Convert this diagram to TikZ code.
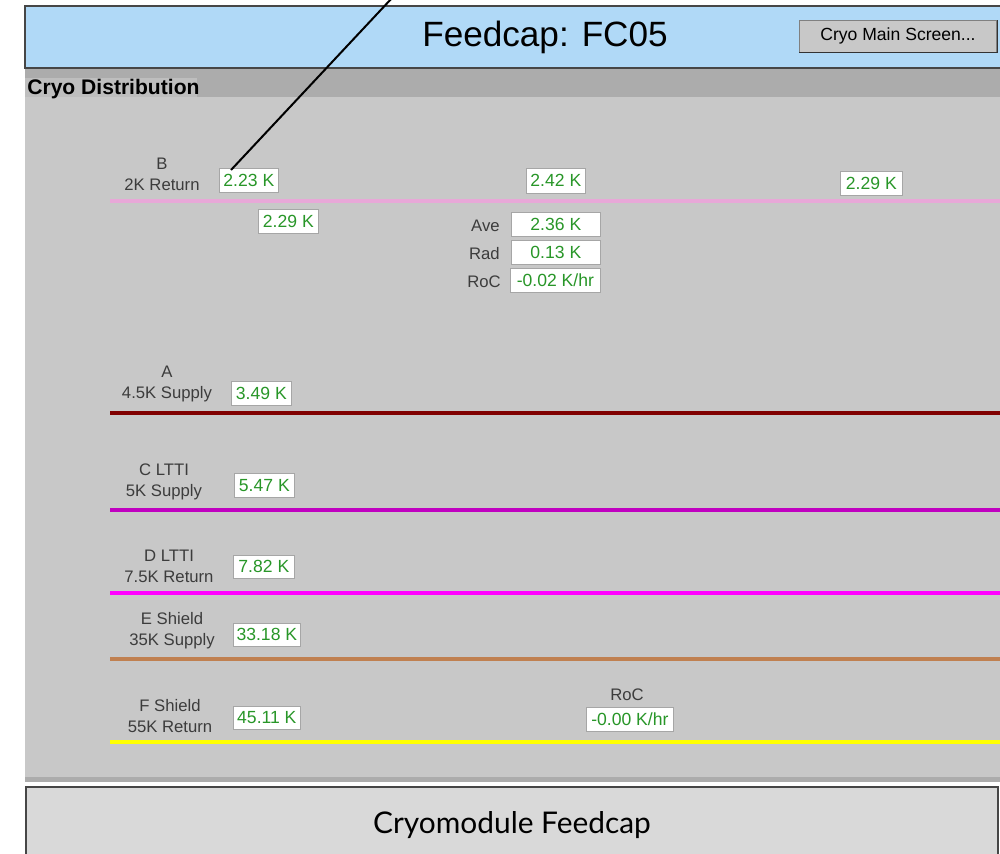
\documentclass[tikz,border=0pt]{standalone}
\usepackage{fontspec}
\setmainfont{Liberation Sans}
\newfontfamily\capfont{Lato}
\usepackage{tikz}
\usetikzlibrary{positioning}
\usetikzlibrary{calc}

\definecolor{hdrblue}{RGB}{176,217,247}
\definecolor{stripgray}{RGB}{172,172,172}
\definecolor{tabgray}{RGB}{190,190,190}
\definecolor{panelgray}{RGB}{200,200,200}
\definecolor{capgray}{RGB}{217,217,217}
\definecolor{framegray}{RGB}{70,70,70}
\definecolor{labelgray}{RGB}{60,60,60}
\definecolor{valgreen}{RGB}{40,150,40}
\definecolor{lineB}{RGB}{232,168,216}
\definecolor{lineA}{RGB}{128,0,0}
\definecolor{lineC}{RGB}{192,0,192}
\definecolor{lineD}{RGB}{255,0,255}
\definecolor{lineE}{RGB}{192,128,80}
\definecolor{lineF}{RGB}{255,255,0}

\tikzset{
  readback/.style={draw=gray!70, fill=white, text=valgreen, inner sep=0pt,
    anchor=north west, font=\fontsize{10}{12}\selectfont},
  pipelabel/.style={align=center, text=labelgray, inner sep=0pt,
    font=\fontsize{9.5}{12}\selectfont},
  sidelabel/.style={text=labelgray, inner sep=0pt, font=\fontsize{9.5}{12}\selectfont},
  pipe/.style={line width=0.07cm}
}

\begin{document}
\begin{tikzpicture}[x=0.02cm,y=-0.02cm]
\newcommand{\Px}{0.02cm}
\newcommand{\Lft}{110}
\newcommand{\Rgt}{1000}
\useasboundingbox (0,0) rectangle (1000,853);

% header, strip and panel
\fill[hdrblue] (25,6) rectangle (1000,68);
\fill[stripgray] (25,68) rectangle (1000,97);
\fill[tabgray] (25,78) rectangle (197,98);
\fill[panelgray] (25,97) rectangle (1000,777);
\fill[stripgray] (25,777) rectangle (1000,782);
\draw[framegray, line width=0.04cm] (1000,6) -- (25,6) -- (25,68) -- (1000,68);
\fill[capgray, draw=framegray, line width=0.04cm] (26,787) rectangle (998,860);

\node (title) at (545,37) {\fontsize{20}{24}\selectfont Feedcap: FC05};
\node[draw=gray, fill=panelgray, minimum width=197*\Px, minimum height=32*\Px,
  font=\fontsize{10}{12}\selectfont] (mainbtn) at (898,36) {Cryo Main Screen...};
\draw[gray!40!black] (mainbtn.south west) -- (mainbtn.south east) -- (mainbtn.north east);
\node[anchor=west, inner sep=0pt, font=\bfseries\fontsize{12}{14}\selectfont] (dist) at (27,89) {Cryo Distribution};
\node (caption) at (512,825) {\capfont\fontsize{17}{20}\selectfont Cryomodule Feedcap};

% pipelines
\draw[pipe, lineB] (\Lft,201) -- (\Rgt,201);% B 2K return
\draw[pipe, lineA] (\Lft,413) -- (\Rgt,413);% A 4.5K supply
\draw[pipe, lineC] (\Lft,510) -- (\Rgt,510);% C 5K supply
\draw[pipe, lineD] (\Lft,593) -- (\Rgt,593);% D 7.5K return
\draw[pipe, lineE] (\Lft,659) -- (\Rgt,659);% E 35K supply
\draw[pipe, lineF] (\Lft,742) -- (\Rgt,742);% F 55K return

% line names
\node[pipelabel] (labB) at (162,174) {B\\2K Return};
\node[pipelabel] (labA) at (167,384) {A\\4.5K Supply};
\node[pipelabel] (labC) at (164,482) {C LTTI\\5K Supply};
\node[pipelabel] (labD) at (169,566) {D LTTI\\7.5K Return};
\node[pipelabel] (labE) at (172,631) {E Shield\\35K Supply};
\node[pipelabel] (labF) at (170,716) {F Shield\\55K Return};

% readbacks on B
\node[readback, minimum width=59*\Px, minimum height=24*\Px] (bOne) at (219,168) {2.23 K};
\node[readback, minimum width=59*\Px, minimum height=25*\Px] (bTwo) at (526,168) {2.42 K};
\node[readback, minimum width=62*\Px, minimum height=24*\Px] (bThree) at (840,171) {2.29 K};
\node[readback, minimum width=60*\Px, minimum height=24*\Px] (bFour) at (258,209) {2.29 K};
\node[readback, minimum width=89*\Px, minimum height=24*\Px] (bAve) at (511,212) {2.36 K};
\node[readback, minimum width=89*\Px, minimum height=24*\Px] (bRad) at (511,240) {0.13 K};
\node[readback, minimum width=90*\Px, minimum height=24*\Px] (bRoc) at (510,268) {-0.02 K/hr};
\node[sidelabel, anchor=east] (tAve) at (500,226) {Ave};
\node[sidelabel, anchor=east] (tRad) at (500,254) {Rad};
\node[sidelabel, anchor=east] (tRoc) at (501,282) {RoC};

% readbacks on the other lines
\node[readback, minimum width=60*\Px, minimum height=24*\Px] (aOne) at (231,381) {3.49 K};
\node[readback, minimum width=60*\Px, minimum height=24*\Px] (cOne) at (234,473) {5.47 K};
\node[readback, minimum width=61*\Px, minimum height=23*\Px] (dOne) at (233,555) {7.82 K};
\node[readback, minimum width=67*\Px, minimum height=23*\Px] (eOne) at (233,623) {33.18 K};
\node[readback, minimum width=67*\Px, minimum height=23*\Px] (fOne) at (233,706) {45.11 K};
\node[readback, minimum width=87*\Px, minimum height=24*\Px] (fRoc) at (586,707) {-0.00 K/hr};
\node[sidelabel] (tRocF) at (627,695) {RoC};

% callout
\coordinate (lead) at (392,-2);
\draw[black, line width=0.04cm] (lead) -- ([shift={(12,2)}]bOne.north west);
\end{tikzpicture}
\end{document}
